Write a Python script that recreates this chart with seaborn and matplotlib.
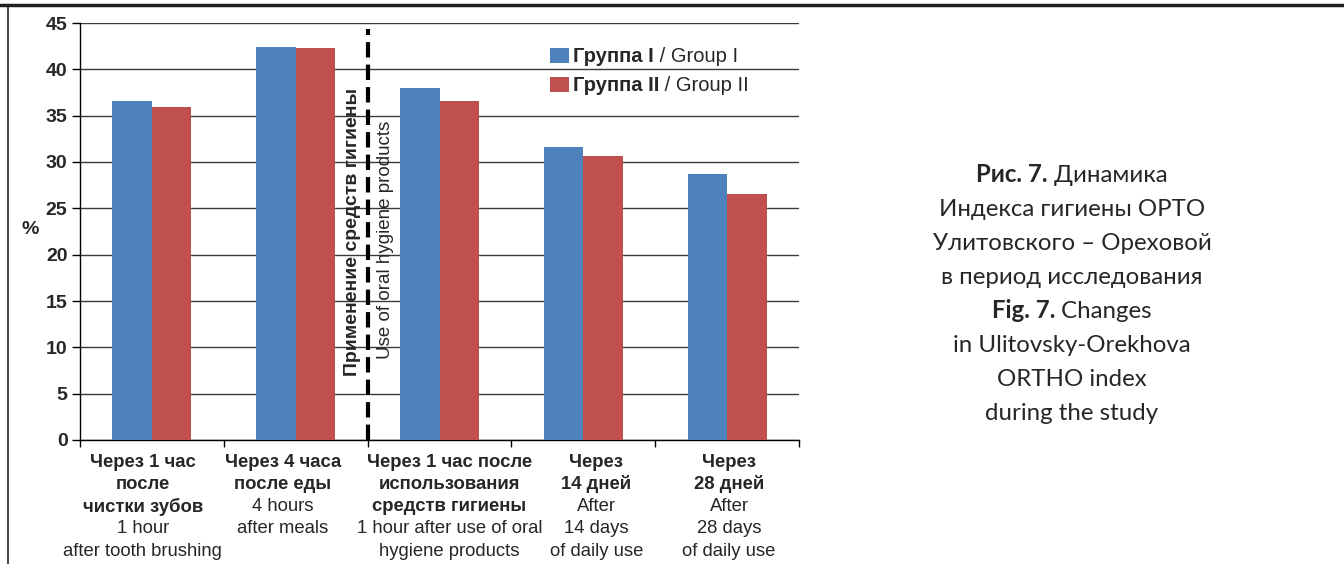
import matplotlib
matplotlib.use("Agg")
import matplotlib.pyplot as plt
import seaborn as sns
import pandas as pd
from matplotlib.patches import Patch
from matplotlib.lines import Line2D

# ---------------- data ----------------
categories = ["c1", "c2", "c3", "c4", "c5"]
group1 = [36.6, 42.4, 38.0, 31.6, 28.7]
group2 = [35.9, 42.3, 36.6, 30.7, 26.5]
series_names = ["Группа I", "Группа II"]
series_suffix = [" / Group I", " / Group II"]
yticks = [0, 5, 10, 15, 20, 25, 30, 35, 40, 45]

label_bold = [
    ["Через 1 час", "после", "чистки зубов"],
    ["Через 4 часа", "после еды"],
    ["Через 1 час после", "использования", "средств гигиены"],
    ["Через", "14 дней"],
    ["Через", "28 дней"],
]
label_normal = [
    ["1 hour", "after tooth brushing"],
    ["4 hours", "after meals"],
    ["1 hour after use of oral", "hygiene products"],
    ["After", "14 days", "of daily use"],
    ["After", "28 days", "of daily use"],
]
divider_bold = "Применение средств гигиены"
divider_normal = "Use of oral hygiene products"
caption_lines = [
    ("Рис. 7.", " Динамика"),
    ("", "Индекса гигиены ОРТО"),
    ("", "Улитовского – Ореховой"),
    ("", "в период исследования"),
    ("Fig. 7.", " Changes"),
    ("", "in Ulitovsky-Orekhova"),
    ("", "ORTHO index"),
    ("", "during the study"),
]

colors = ["#4F81BD", "#C0504D"]

df = pd.DataFrame({
    "cat": categories * 2,
    "val": group1 + group2,
    "grp": [series_names[0]] * 5 + [series_names[1]] * 5,
})

sns.set_style("white")
plt.rcParams["font.family"] = ["Liberation Sans", "DejaVu Sans"]

W, H = 1344, 564
fig = plt.figure(figsize=(W / 100, H / 100), dpi=100)
ax = fig.add_axes([80 / W, 1 - 440 / H, (799 - 80) / W, (440 - 23) / H])

sns.barplot(data=df, x="cat", y="val", hue="grp", palette=colors,
            width=0.55, gap=0, saturation=1, ax=ax, legend=False, zorder=3,
            edgecolor="none", linewidth=0)

ax.set_xlim(-0.5, 4.5)
ax.set_ylim(0, 45)
ax.set_yticks(yticks)
ax.set_yticklabels([str(t) for t in yticks], fontweight="bold", fontsize=14)
ax.yaxis.grid(True, color="#3a3a3a", linewidth=1, zorder=0)
ax.set_axisbelow(True)
ax.set_xlabel("")
ax.set_ylabel("")
for s in ["top", "right"]:
    ax.spines[s].set_visible(False)
for s in ["left", "bottom"]:
    ax.spines[s].set_color("black")
    ax.spines[s].set_linewidth(1)
ax.tick_params(axis="y", which="major", direction="out", length=6, width=1,
               color="black", left=True, pad=3)
ax.set_xticks(range(5))
ax.set_xticklabels([])
ax.tick_params(axis="x", which="major", length=0)
ax.set_xticks([i - 0.5 for i in range(6)], minor=True)
ax.tick_params(axis="x", which="minor", direction="out", length=5, width=1,
               color="black", bottom=True)

# y label
fig.text(30 / W, 1 - 230 / H, "%", fontweight="bold", fontsize=14,
         ha="center", va="center")

# x labels (multi-line, bold then normal); small horizontal shifts as in the original
label_shift_px = [-9, -13, 10, 13, 2]
line_pt = 16.0
for i in range(5):
    dx = label_shift_px[i] * 0.72
    k = 0
    for t in label_bold[i]:
        ax.annotate(t, xy=(i, 0), xycoords=("data", "axes fraction"),
                    xytext=(dx, -16 - k * line_pt), textcoords="offset points",
                    ha="center", va="center", fontsize=13.3, fontweight="bold")
        k += 1
    for t in label_normal[i]:
        ax.annotate(t, xy=(i, 0), xycoords=("data", "axes fraction"),
                    xytext=(dx, -16 - k * line_pt), textcoords="offset points",
                    ha="center", va="center", fontsize=13.3)
        k += 1

# divider line
ax.add_line(Line2D([1.5, 1.5], [0, 44.4], color="black", linewidth=3,
                   dashes=(3.7, 1.7), zorder=4, clip_on=False))
ax.text(1.5 - 0.105, 22.4, divider_bold, rotation=90, ha="center", va="center",
        fontsize=14, fontweight="bold", zorder=5)
ax.text(1.5 + 0.125, 21.6, divider_normal, rotation=90, ha="center", va="center",
        fontsize=13.5, zorder=5)

# legend
handles = [Patch(facecolor=c, edgecolor="none") for c in colors]
leg = ax.legend(handles, series_names, loc="upper left",
                bbox_to_anchor=(0.628, 0.985), frameon=False,
                prop={"weight": "bold", "size": 14.5}, handlelength=0.95,
                handleheight=0.75, handletextpad=0.2, labelspacing=0.5)
for txt, suf in zip(leg.get_texts(), series_suffix):
    ax.annotate(suf, xy=(1, 0), xycoords=txt, va="bottom", ha="left",
                fontsize=14.5)

# frame lines of the figure
fig.add_artist(Line2D([0, 1], [1 - 4.5 / H, 1 - 4.5 / H], color="#222222",
                      linewidth=2.5, transform=fig.transFigure))
fig.add_artist(Line2D([8 / W, 8 / W], [0, 1 - 4.5 / H], color="#222222",
                      linewidth=1.2, transform=fig.transFigure))

# caption, centered lines with mixed weights
fig.canvas.draw()
renderer = fig.canvas.get_renderer()
cap_font = ["Lato", "DejaVu Sans"]
probe = fig.text(0, 0, caption_lines[2][1], fontsize=10, family=cap_font)
pw = probe.get_window_extent(renderer).width
probe.remove()
cap_size = 10 * 279 / pw
cx = 1072
for j, (b, n) in enumerate(caption_lines):
    ypix = 175 + j * 34.0
    yf = 1 - ypix / H
    tb = fig.text(0, yf, b, fontweight="bold", fontsize=cap_size, family=cap_font,
                  ha="left", va="center") if b else None
    tn = fig.text(0, yf, n, fontsize=cap_size, family=cap_font, ha="left", va="center")
    wb = tb.get_window_extent(renderer).width if tb else 0
    wn = tn.get_window_extent(renderer).width
    x0 = cx - (wb + wn) / 2
    if tb:
        tb.set_x(x0 / W)
    tn.set_x((x0 + wb) / W)

fig.savefig("out.png", dpi=100, facecolor="white")
